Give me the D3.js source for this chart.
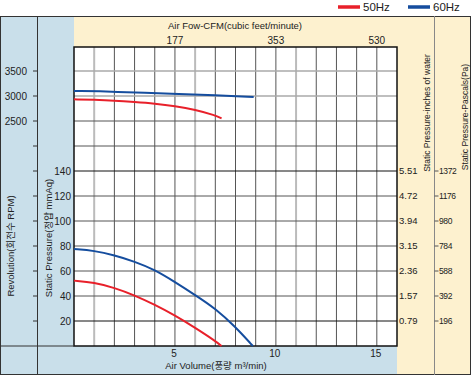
<!DOCTYPE html>
<html lang="en">
<head>
    <meta charset="UTF-8">
    <title>Fan Performance Curve</title>
    <script src="https://d3js.org/d3.v7.min.js"></script>
    <style>
        body { margin: 0; background: #fff; }
        svg { display: block; }
        text {
            font-family: "Liberation Sans", Arial, "Noto Sans CJK KR", sans-serif;
            fill: #222;
        }
    </style>
</head>
<body>
    <svg width="471" height="378"></svg>

    <script>
        // Data
        const airVolumeTicks = [5, 10, 15];
        const cfmLabels = ["177", "353", "530"];
        const pressureTicks = [20, 40, 60, 80, 100, 120, 140];
        const rpmTicks = [2500, 3000, 3500];
        const inchLabels = ["0.79", "1.57", "2.36", "3.15", "3.94", "4.72", "5.51"];
        const pascalLabels = ["196", "392", "588", "784", "980", "1176", "1372"];

        // static pressure curves (m3/min, mmAq)
        const pressure50 = [[0, 52.3], [1, 50.8], [2, 46.6], [3, 40.6], [4, 33], [5, 24.5], [6, 14.6], [7, 4], [7.31, 0]];
        const pressure60 = [[0, 77.6], [1, 76.3], [2, 72.6], [3, 67.6], [4, 61], [5, 51.2], [6, 40.8], [7, 30.1], [8, 15.2], [8.86, 0]];
        // revolution curves (m3/min, RPM)
        const rpm50 = [[0, 2934], [1, 2924], [2, 2908], [3, 2880], [4, 2848], [5, 2800], [6, 2728], [7, 2614], [7.31, 2554]];
        const rpm60 = [[0, 3100], [2, 3088], [5, 3040], [7, 3014], [8.9, 2980]];

        const red = "#e8202a", blue = "#154d9e";
        const bluePanel = "#c9dfea", beigePanel = "#fdf1cf";

        const svg = d3.select("svg");
        const plotL = 74, plotR = 397, plotT = 47, plotB = 346;

        const x = d3.scaleLinear([0, 16], [plotL, plotR]);
        const yP = d3.scaleLinear([0, 140], [plotB, 171]);
        const yR = d3.scaleLinear([2500, 3500], [yP(180), yP(220)]);

        // background panels
        svg.append("rect").attr("x", 0).attr("y", 16).attr("width", plotL).attr("height", 358).attr("fill", bluePanel);
        svg.append("rect").attr("x", plotL).attr("y", plotB).attr("width", plotR - plotL).attr("height", 28).attr("fill", bluePanel);
        svg.append("rect").attr("x", plotL).attr("y", 16).attr("width", 434 - plotL).attr("height", plotT - 16).attr("fill", beigePanel);
        svg.append("rect").attr("x", plotR).attr("y", 16).attr("width", 471 - plotR).attr("height", 358).attr("fill", beigePanel);
        svg.append("rect").attr("x", plotL).attr("y", plotT).attr("width", plotR - plotL).attr("height", plotB - plotT).attr("fill", "#fff");

        // grid
        const gridY = d3.range(20, 240, 20).map(v => yP(v));
        svg.append("g").selectAll("line")
            .data(d3.range(1, 16))
            .join("line")
            .attr("x1", d => x(d)).attr("x2", d => x(d))
            .attr("y1", plotT).attr("y2", plotB)
            .attr("stroke", d => d % 5 === 1 ? "#bbb" : "#555")
            .attr("stroke-width", d => d % 5 === 1 ? 2 : 1);

        svg.append("g").selectAll("line")
            .data(d3.range(20, 240, 20))
            .join("line")
            .attr("x1", plotL).attr("x2", plotR)
            .attr("y1", d => yP(d)).attr("y2", d => yP(d))
            .attr("stroke", d => (d === 20 || d === 140) ? "#111" : (d >= 200 ? "#aaa" : "#555"))
            .attr("stroke-width", d => d >= 200 ? 1.6 : 1);

        svg.append("rect").attr("x", plotL).attr("y", plotT).attr("width", plotR - plotL).attr("height", plotB - plotT)
            .attr("fill", "none").attr("stroke", "#111").attr("stroke-width", 1.5);

        // frame lines
        const frame = svg.append("g").attr("stroke", "#333").attr("stroke-width", 1);
        frame.append("line").attr("x1", 0).attr("x2", 471).attr("y1", 16.5).attr("y2", 16.5);
        frame.append("line").attr("x1", 0).attr("x2", 471).attr("y1", 374.5).attr("y2", 374.5);
        frame.append("line").attr("x1", 0.5).attr("x2", 0.5).attr("y1", 16).attr("y2", 375);
        frame.append("line").attr("x1", 470.5).attr("x2", 470.5).attr("y1", 16).attr("y2", 375);
        frame.append("line").attr("x1", 37.5).attr("x2", 37.5).attr("y1", 16).attr("y2", 375);
        frame.append("line").attr("x1", 0).attr("x2", plotL).attr("y1", plotB).attr("y2", plotB);
        frame.append("line").attr("x1", 434.5).attr("x2", 434.5).attr("y1", 16).attr("y2", 375).attr("stroke", "#888");

        // left ticks on the revolution divider
        svg.append("g").selectAll("line")
            .data(gridY)
            .join("line")
            .attr("x1", 33).attr("x2", 37.5)
            .attr("y1", d => d).attr("y2", d => d)
            .attr("stroke", "#333");

        // revolution labels
        svg.append("g").selectAll("text")
            .data(rpmTicks)
            .join("text")
            .attr("x", 27).attr("y", d => yR(d))
            .attr("dy", "0.35em")
            .attr("text-anchor", "end")
            .attr("font-size", 10)
            .text(d => d);

        // static pressure labels
        svg.append("g").selectAll("text")
            .data(pressureTicks)
            .join("text")
            .attr("x", 71).attr("y", d => yP(d))
            .attr("dy", "0.35em")
            .attr("text-anchor", "end")
            .attr("font-size", 10)
            .text(d => d);

        // inches of water
        svg.append("g").selectAll("text")
            .data(pressureTicks)
            .join("text")
            .attr("x", 399).attr("y", d => yP(d))
            .attr("dy", "0.35em")
            .attr("font-size", 9.5)
            .text((d, i) => inchLabels[i]);

        // pascals
        svg.append("g").selectAll("line")
            .data(pressureTicks)
            .join("line")
            .attr("x1", 434.5).attr("x2", 438.5)
            .attr("y1", d => yP(d)).attr("y2", d => yP(d))
            .attr("stroke", "#555");
        svg.append("g").selectAll("text")
            .data(pressureTicks)
            .join("text")
            .attr("x", 439).attr("y", d => yP(d))
            .attr("dy", "0.35em")
            .attr("font-size", 8.5)
            .attr("letter-spacing", -0.4)
            .text((d, i) => pascalLabels[i]);

        // bottom axis labels
        svg.append("g").selectAll("text")
            .data(airVolumeTicks)
            .join("text")
            .attr("x", d => x(d) - 1).attr("y", 357)
            .attr("text-anchor", "middle")
            .attr("font-size", 10)
            .text(d => d);

        // top CFM labels
        svg.append("g").selectAll("text")
            .data(airVolumeTicks)
            .join("text")
            .attr("x", d => x(d)).attr("y", 44)
            .attr("text-anchor", "middle")
            .attr("font-size", 10)
            .text((d, i) => cfmLabels[i]);

        // titles
        svg.append("text").attr("x", 235).attr("y", 28.5).attr("text-anchor", "middle")
            .attr("font-size", 9.5).text("Air Fow-CFM(cubic feet/minute)");
        svg.append("text").attr("x", 216).attr("y", 368.5).attr("text-anchor", "middle")
            .attr("font-size", 9.5).text("Air Volume(풍량 m³/min)");

        function vTitle(cx, cy, size, label) {
            svg.append("text")
                .attr("transform", `translate(${cx},${cy}) rotate(-90)`)
                .attr("text-anchor", "middle")
                .attr("dy", "0.35em")
                .attr("font-size", size)
                .text(label);
        }
        vTitle(11, 246, 9.5, "Revolution(회전수 RPM)");
        vTitle(49, 238, 9.5, "Static Pressure(정압 mmAq)");
        vTitle(427, 113, 8.5, "Static Pressure-inches of water");
        vTitle(465, 117, 8.5, "Static Pressure-Pascals(Pa)");

        // curves
        const pLine = d3.line().x(d => x(d[0])).y(d => yP(d[1])).curve(d3.curveBasis);
        const rLine = d3.line().x(d => x(d[0])).y(d => yR(d[1])).curve(d3.curveBasis);

        const curves = svg.append("g").attr("fill", "none").attr("stroke-width", 2);
        curves.append("path").attr("d", rLine(rpm60)).attr("stroke", blue);
        curves.append("path").attr("d", rLine(rpm50)).attr("stroke", red);
        curves.append("path").attr("d", pLine(pressure60)).attr("stroke", blue);
        curves.append("path").attr("d", pLine(pressure50)).attr("stroke", red);

        // legend
        const legend = [{ label: "50Hz", color: red, x: 338 }, { label: "60Hz", color: blue, x: 408 }];
        const lg = svg.append("g").selectAll("g").data(legend).join("g")
            .attr("transform", d => `translate(${d.x},7)`);
        lg.append("line").attr("x1", 0).attr("x2", 22).attr("stroke", d => d.color).attr("stroke-width", 3.5);
        lg.append("text").attr("x", 25).attr("dy", "0.38em").attr("font-size", 11.5).text(d => d.label);
    </script>
</body>
</html>
